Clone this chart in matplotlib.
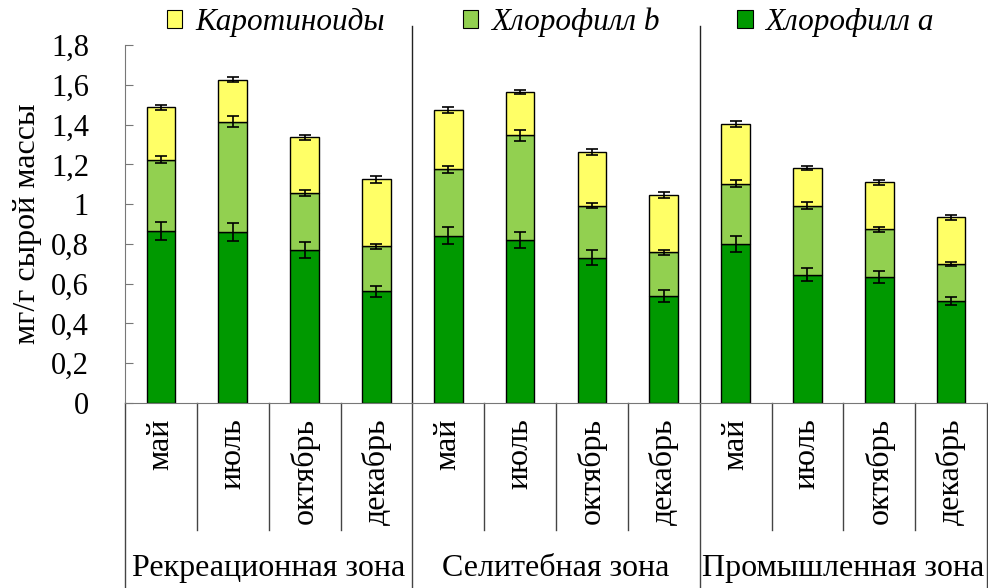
import matplotlib
matplotlib.use("Agg")
import matplotlib.pyplot as plt
import matplotlib.transforms as mtransforms
from matplotlib.patches import Patch

plt.rcParams['font.family'] = ['Liberation Serif', 'DejaVu Serif']

months = ["май", "июль", "октябрь", "декабрь"]
zones = ["Рекреационная зона", "Селитебная зона", "Промышленная зона"]
categories = months * 3

# stacked components (mg/g fresh mass)
chl_a = [0.864, 0.859, 0.767, 0.561,
         0.842, 0.820, 0.731, 0.538,
         0.800, 0.645, 0.632, 0.514]
chl_b = [0.360, 0.556, 0.290, 0.226,
         0.333, 0.526, 0.261, 0.220,
         0.303, 0.347, 0.242, 0.185]
carot = [0.262, 0.210, 0.279, 0.338,
         0.297, 0.217, 0.270, 0.289,
         0.300, 0.188, 0.235, 0.234]
err_a = [0.045, 0.044, 0.040, 0.028,
         0.042, 0.040, 0.038, 0.028,
         0.040, 0.032, 0.030, 0.020]
err_b = [0.019, 0.029, 0.015, 0.013,
         0.018, 0.027, 0.014, 0.012,
         0.017, 0.017, 0.013, 0.010]
err_c = [0.014, 0.012, 0.013, 0.018,
         0.014, 0.010, 0.013, 0.014,
         0.015, 0.010, 0.012, 0.012]

yticks = [0, 0.2, 0.4, 0.6, 0.8, 1.0, 1.2, 1.4, 1.6, 1.8]
ytick_labels = ["0", "0,2", "0,4", "0,6", "0,8", "1", "1,2", "1,4", "1,6", "1,8"]

col_a = "#009900"
col_b = "#92D050"
col_c = "#FFFF66"

fig = plt.figure(figsize=(9.88, 5.88), dpi=100)
ax = fig.add_axes([125/988, 1-403/588, 862/988, (403-45)/588])

x = [i + 0.5 for i in range(len(categories))]
w = 0.4
bottom_b = chl_a
bottom_c = [a + b for a, b in zip(chl_a, chl_b)]
top_c = [s + c for s, c in zip(bottom_c, carot)]

ax.bar(x, chl_a, w, color=col_a, edgecolor="black", linewidth=1, zorder=2)
ax.bar(x, chl_b, w, bottom=bottom_b, color=col_b, edgecolor="black", linewidth=1, zorder=2)
ax.bar(x, carot, w, bottom=bottom_c, color=col_c, edgecolor="black", linewidth=1, zorder=2)

ekw = dict(fmt="none", ecolor="black", elinewidth=1.2, capsize=4.2, capthick=1.2, zorder=3)
ax.errorbar(x, chl_a, yerr=err_a, **ekw)
ax.errorbar(x, bottom_c, yerr=err_b, **ekw)
ax.errorbar(x, top_c, yerr=err_c, **ekw)

ax.set_xlim(0, 12)
ax.set_ylim(0, 1.8)
ax.set_yticks(yticks)
ax.set_yticklabels(ytick_labels, fontsize=22)
ax.tick_params(axis="y", direction="in", length=6, color="#777777", pad=26)
ax.set_xticks(x)
ax.set_xticklabels(categories, rotation=90, fontsize=23)
ax.tick_params(axis="x", length=0, pad=11)
for s in ["top", "right"]:
    ax.spines[s].set_visible(False)
ax.spines["left"].set_color("#777777")
ax.spines["bottom"].set_color("#777777")

# group separators inside the plot
for gx in [4, 8]:
    ax.plot([gx, gx], [0, 1.895], color="#222222", lw=1, clip_on=False, zorder=1)

# separators below the axis
tr = mtransforms.blended_transform_factory(ax.transData, fig.transFigure)
y0 = 1 - 403/588
for bx in range(13):
    if bx % 4 == 0:
        ax.plot([bx, bx], [y0, 0], color="#444444", lw=1, transform=tr, clip_on=False)
    else:
        ax.plot([bx, bx], [y0, 1 - 530/588], color="#444444", lw=1, transform=tr, clip_on=False)

for gi, z in enumerate(zones):
    ax.text(gi * 4 + 2, 0.034, z, transform=tr, ha="center", va="center", fontsize=23)

fig.text(27/988, 1 - 224/588, "мг/г сырой массы", rotation=90, ha="center", va="center", fontsize=23)

handles = [Patch(facecolor=col_c, edgecolor="black", lw=0.8),
           Patch(facecolor=col_b, edgecolor="black", lw=0.8),
           Patch(facecolor=col_a, edgecolor="black", lw=0.8)]
labels = ["Каротиноиды", "Хлорофилл b", "Хлорофилл a"]
fig.legend(handles, labels, loc="center", bbox_to_anchor=(0.557, 1 - 22/588), ncol=3,
           frameon=False, prop={"style": "italic", "size": 22.5},
           handlelength=0.5, handleheight=0.5, handletextpad=0.4, columnspacing=2.5,
           borderaxespad=0, borderpad=0)

fig.savefig("out.png", dpi=100)
